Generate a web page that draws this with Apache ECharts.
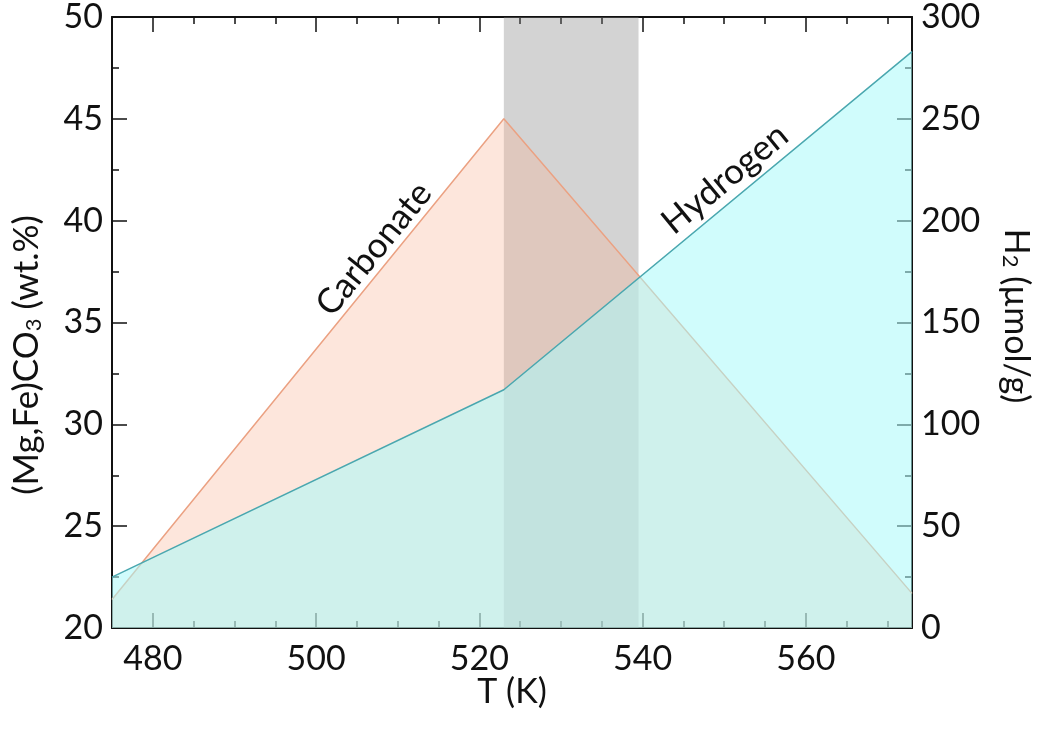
<!DOCTYPE html>
<html>
<head>
<meta charset="utf-8">
<script src="https://cdn.jsdelivr.net/npm/echarts@6/dist/echarts.min.js"></script>
<style>
  html, body { margin: 0; padding: 0; background: #fff; }
  #chart { width: 1037px; height: 735px; }
</style>
</head>
<body>
<div id="chart"></div>
<script>
// temperatures (K) and values
var carbonateT = [475, 523, 573];
var carbonateWt = [21.4, 45, 21.7];        // (Mg,Fe)CO3 wt.%
var hydrogenT = [475, 523, 573];
var hydrogenUmol = [25, 117, 283];         // H2 umol/g
var bandRange = [523, 539.5];              // shaded window

var xMajorTicks = [480, 500, 520, 540, 560];
var xMinorTicks = [485, 490, 495, 505, 510, 515, 525, 530, 535, 545, 550, 555, 565, 570];

var font = 'Lato';
var ink = '#111';

function pairs(xs, ys) {
    var res = [];
    for (var i = 0; i < xs.length; i++) {
        res.push([xs[i], ys[i]]);
    }
    return res;
}

function xAxisDef(pos, ticks, len, withLine, withLabel) {
    return {
        type: 'value',
        position: pos,
        min: 475,
        max: 573,
        axisLine: { show: withLine, onZero: false, lineStyle: { color: ink, width: 2 } },
        axisTick: {
            show: true, inside: true, length: len,
            customValues: ticks,
            lineStyle: { color: ink, width: 1.5 }
        },
        axisLabel: withLabel ? {
            show: true, customValues: ticks, margin: 14,
            color: ink, fontFamily: font, fontSize: 34
        } : { show: false },
        splitLine: { show: false }
    };
}

function yAxisDef(pos, min, max, step) {
    return {
        type: 'value',
        position: pos,
        min: min,
        max: max,
        interval: step,
        axisLine: { show: true, onZero: false, lineStyle: { color: ink, width: 2 } },
        axisTick: { show: true, inside: true, length: 15, lineStyle: { color: ink, width: 1.5 } },
        minorTick: { show: true, splitNumber: 2, length: 7, lineStyle: { color: ink, width: 1.5 } },
        axisLabel: { color: ink, fontFamily: font, fontSize: 34, margin: 9 },
        splitLine: { show: false },
        minorSplitLine: { show: false }
    };
}

var chart = echarts.init(document.getElementById('chart'));

chart.setOption({
    animation: false,
    backgroundColor: '#fff',
    grid: { left: 112, right: 125, top: 15, bottom: 107, containLabel: false },
    xAxis: [
        xAxisDef('bottom', xMajorTicks, 15, true, true),
        xAxisDef('bottom', xMinorTicks, 7, false, false),
        xAxisDef('top', xMajorTicks, 15, true, false),
        xAxisDef('top', xMinorTicks, 7, false, false)
    ],
    yAxis: [
        yAxisDef('left', 20, 50, 5),
        yAxisDef('right', 0, 300, 50)
    ],
    series: [
        {
            name: 'Carbonate',
            type: 'line',
            xAxisIndex: 0,
            yAxisIndex: 0,
            symbol: 'none',
            z: 2,
            lineStyle: { color: '#eba182', width: 1.5 },
            areaStyle: { color: 'rgba(250,180,150,0.33)', opacity: 1, origin: 'start' },
            data: pairs(carbonateT, carbonateWt)
        },
        {
            name: 'Hydrogen',
            type: 'line',
            xAxisIndex: 0,
            yAxisIndex: 1,
            symbol: 'none',
            z: 3,
            lineStyle: { color: '#4aa7af', width: 1.5 },
            areaStyle: { color: 'rgba(169,249,249,0.55)', opacity: 1, origin: 'start' },
            data: pairs(hydrogenT, hydrogenUmol)
        },
        {
            // grey window on top of everything
            name: 'band',
            type: 'line',
            xAxisIndex: 0,
            yAxisIndex: 0,
            z: 5,
            data: [],
            markArea: {
                silent: true,
                itemStyle: { color: 'rgba(128,128,128,0.35)' },
                data: [[{ xAxis: bandRange[0] }, { xAxis: bandRange[1] }]]
            }
        }
    ],
    graphic: [
        {
            type: 'text', x: 374, y: 249, rotation: 50.8 * Math.PI / 180, z: 10,
            style: { text: 'Carbonate', fill: ink, font: '35px Lato', align: 'center', verticalAlign: 'middle' }
        },
        {
            type: 'text', x: 725, y: 179, rotation: 39.5 * Math.PI / 180, z: 10,
            style: { text: 'Hydrogen', fill: ink, font: '35px Lato', align: 'center', verticalAlign: 'middle' }
        },
        {
            type: 'text', x: 512, y: 692, z: 10,
            style: { text: 'T (K)', fill: ink, font: '34px Lato', align: 'center', verticalAlign: 'middle' }
        },
        {
            type: 'text', x: 27, y: 355, rotation: Math.PI / 2, z: 10,
            style: {
                text: '(Mg,Fe)CO{s|3} (wt.%)',
                fill: ink, fontFamily: font, fontSize: 35,
                align: 'center', verticalAlign: 'middle',
                rich: { s: { fontFamily: font, fontSize: 22, verticalAlign: 'bottom', fill: ink } }
            }
        },
        {
            type: 'text', x: 1016, y: 316, rotation: -Math.PI / 2, z: 10,
            style: {
                text: 'H{s|2} (\u00b5mol/g)',
                fill: ink, fontFamily: font, fontSize: 34,
                align: 'center', verticalAlign: 'middle',
                rich: { s: { fontFamily: font, fontSize: 22, verticalAlign: 'bottom', fill: ink } }
            }
        }
    ]
});
</script>
</body>
</html>
